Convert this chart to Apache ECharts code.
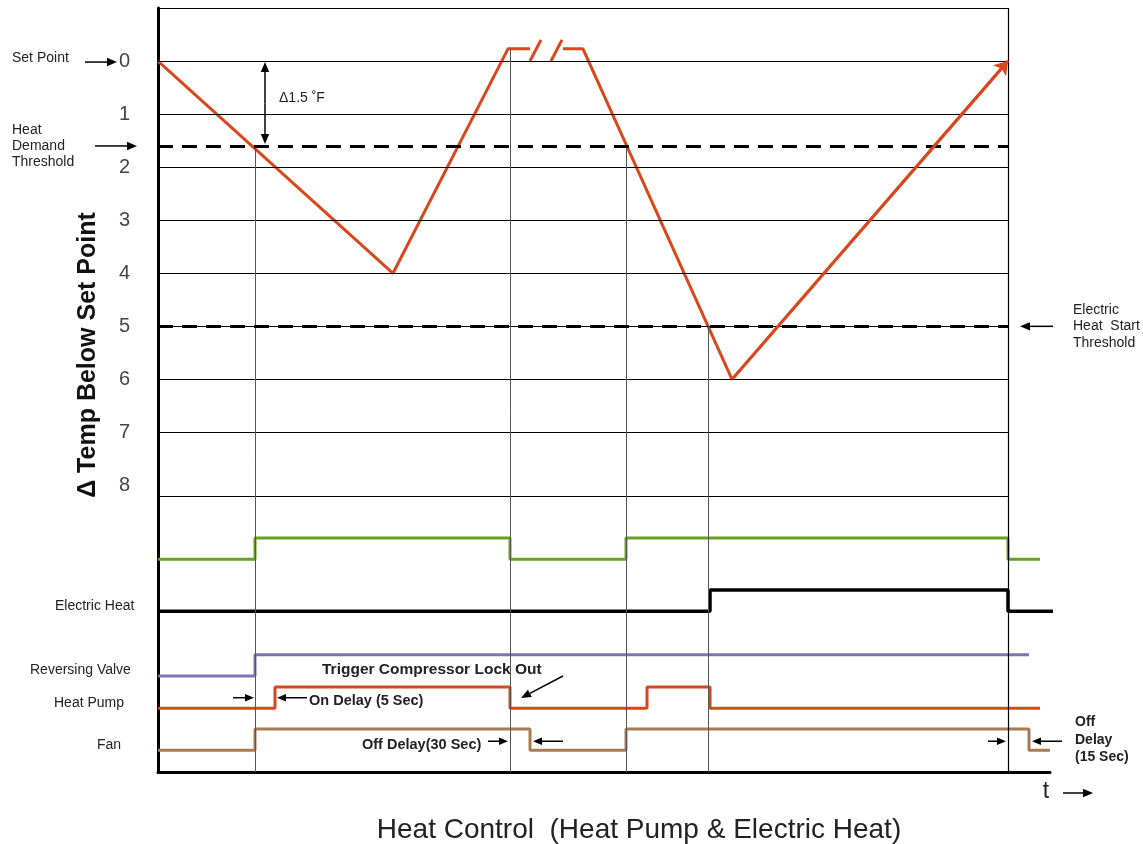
<!DOCTYPE html>
<html>
<head>
<meta charset="utf-8">
<script src="https://cdn.jsdelivr.net/npm/echarts@6/dist/echarts.min.js"></script>
<style>
  html, body { margin: 0; background: #fff; }
  #chart { width: 1143px; height: 844px; }
</style>
</head>
<body>
<div id="chart"></div>
<script>
// temperature below set point (deg F) against time
var tempRise = [[0, 0], [235, 4], [350, -0.23], [372, -0.23]];
var tempFall = [[405, -0.23], [425, -0.23], [574, 6], [850, 0]];
var breakMarks = [[[372, 0], [383, -0.4]], [[393, 0], [404, -0.4]]];
var gridLevels = [0, 1, 2, 3, 4, 5, 6, 7, 8.2];
var tickLabels = ['0', '1', '2', '3', '4', '5', '6', '7', '8'];
var heatDemand = 1.6;
var elecStart = 5;
// vertical event lines: [time, start level]
var events = [[97, 1.6], [352, -0.23], [468, 1.6], [550, 5]];

// digital signals: [time, state]
var callSig  = [[0, 0], [97, 1], [352, 0], [468, 1], [850, 0], [882, 0]];
var elecHeat = [[0, 0], [552, 1], [850, 0], [903, 0]];
var revValve = [[0, 0], [97, 1], [871, 1]];
var heatPump = [[0, 0], [117, 1], [352, 0], [489, 1], [552, 0], [882, 0]];
var fan      = [[0, 0], [97, 1], [372, 0], [468, 1], [871, 0], [892, 0]];

var FONT = 'Liberation Sans, Arial, sans-serif';
var RED = '#d9481c';

var chart = echarts.init(document.getElementById('chart'));

function levelize(sig, base) {
  return sig.map(function (p) { return [p[0], base - p[1] * 0.4]; });
}

function sigSeries(sig, base, color, width) {
  return {
    type: 'line', step: 'end', data: levelize(sig, base), symbol: 'none',
    clip: false, silent: true, animation: false,
    lineStyle: { color: color, width: width || 3 }
  };
}

function hLine(v, t0, t1) { return [{ coord: [t0, v] }, { coord: [t1, v] }]; }

var option = {
  backgroundColor: '#fff',
  grid: { left: 158, right: 93, top: 8, bottom: 72 },
  xAxis: {
    type: 'value', min: 0, max: 892,
    axisLine: { onZero: false, lineStyle: { color: '#000', width: 3 } },
    axisTick: { show: false }, axisLabel: { show: false }, splitLine: { show: false }
  },
  yAxis: {
    type: 'value', inverse: true, min: -1, max: 13.4, interval: 1,
    axisLine: { onZero: false, lineStyle: { color: '#000', width: 3 } },
    axisTick: { show: false }, splitLine: { show: false },
    axisLabel: {
      margin: 28, fontSize: 20, color: '#444', fontFamily: FONT,
      formatter: function (v) { return (v >= 0 && v <= 8) ? tickLabels[v] : ''; }
    }
  },
  series: [
    {
      // helper lines: grid, frame, thresholds, event markers
      type: 'line', data: [[0, -1]], symbol: 'none', clip: false, silent: true,
      animation: false, lineStyle: { opacity: 0 },
      markLine: {
        silent: true, symbol: 'none', animation: false, label: { show: false },
        lineStyle: { color: '#000', width: 1.2, type: 'solid' },
        data: gridLevels.map(function (v) { return hLine(v, 0, 850); })
          .concat([hLine(-1, 0, 850)])
          .concat([[{ coord: [850, -1] }, { coord: [850, 13.4] }]])
          .concat(events.map(function (e) {
            return [{ coord: [e[0], e[1]], lineStyle: { color: '#555', width: 1 } }, { coord: [e[0], 13.4] }];
          }))
          .concat([heatDemand, elecStart].map(function (v) {
            return [{ coord: [0, v], lineStyle: { color: '#000', width: 3, type: [15, 9] } }, { coord: [850, v] }];
          }))
      }
    },
    {
      type: 'line', data: tempRise, symbol: 'none', silent: true, animation: false,
      lineStyle: { color: RED, width: 3 }
    },
    {
      type: 'line', data: tempFall, symbol: 'none', silent: true, animation: false,
      lineStyle: { color: RED, width: 3 },
      markLine: {
        silent: true, animation: false, symbol: ['none', 'arrow'], symbolSize: 13,
        label: { show: false }, lineStyle: { color: RED, width: 3, type: 'solid' },
        data: [[{ coord: tempFall[2] }, { coord: tempFall[3] }]]
      }
    },
    {
      type: 'line', data: breakMarks[0], symbol: 'none', silent: true, animation: false,
      lineStyle: { color: RED, width: 3 }
    },
    {
      type: 'line', data: breakMarks[1], symbol: 'none', silent: true, animation: false,
      lineStyle: { color: RED, width: 3 }
    },
    sigSeries(callSig, 9.39, '#6b9f22'),
    sigSeries(elecHeat, 10.37, '#000', 3.5),
    sigSeries(revValve, 11.59, '#7a76b6'),
    sigSeries(heatPump, 12.2, RED),
    sigSeries(fan, 12.99, '#a97b52')
  ]
};

chart.setOption(option);

function px(t, v) { return chart.convertToPixel({ gridIndex: 0 }, [t, v]); }

function arrow(x1, y1, x2, y2, opts) {
  opts = opts || {};
  var color = opts.color || '#000', head = opts.head || 9, w = opts.width || 1.5;
  var dx = x2 - x1, dy = y2 - y1, len = Math.sqrt(dx * dx + dy * dy);
  var ux = dx / len, uy = dy / len;
  var bx = x2 - ux * head, by = y2 - uy * head;
  var hw = head * 0.42;
  return [
    { type: 'line', silent: true, shape: { x1: x1, y1: y1, x2: bx, y2: by }, style: { stroke: color, lineWidth: w } },
    { type: 'polygon', silent: true, shape: { points: [[x2, y2], [bx - uy * hw, by + ux * hw], [bx + uy * hw, by - ux * hw]] }, style: { fill: color } }
  ];
}

function text(str, x, y, opts) {
  opts = opts || {};
  return {
    type: 'text', silent: true, x: x, y: y, rotation: opts.rotation || 0,
    style: {
      text: str, font: opts.font || ('14px ' + FONT), fill: opts.color || '#222',
      textAlign: opts.align || 'left', textVerticalAlign: opts.valign || 'middle',
      lineHeight: opts.lineHeight || 16
    }
  };
}

var yZero = px(0, 0)[1];
var yDemand = px(0, heatDemand)[1];
var yElec = px(0, elecStart)[1];
var xEv1 = px(97, 0)[0], xEv2 = px(352, 0)[0], xFanOff = px(372, 0)[0];
var xHpOn = px(117, 0)[0], xEnd = px(850, 0)[0], xFanOff2 = px(871, 0)[0];
var xDelta = px(107, 0)[0];
var yHp = px(0, 12.0)[1], yFan = px(0, 12.82)[1];

var g = [];
g.push(text('Set Point', 12, yZero - 3));
g = g.concat(arrow(85, yZero + 1, 117, yZero + 1, { head: 10 }));
g.push(text('Heat\nDemand\nThreshold', 12, yDemand));
g = g.concat(arrow(95, yDemand, 137, yDemand, { head: 10 }));
g.push(text('Electric\nHeat  Start\nThreshold', 1073, yElec, { lineHeight: 16.5 }));
g = g.concat(arrow(1053, yElec, 1020, yElec, { head: 10 }));

// delta 1.5 F double arrow
g = g.concat(arrow(xDelta, (yZero + yDemand) / 2, xDelta, yZero + 1, { head: 10 }));
g = g.concat(arrow(xDelta, (yZero + yDemand) / 2, xDelta, yDemand - 2, { head: 10 }));
g.push(text('\u03941.5 \u02daF', 279, 98));

// signal names
g.push(text('Electric Heat', 55, 606));
g.push(text('Reversing Valve', 30, 670));
g.push(text('Heat Pump', 54, 703));
g.push(text('Fan', 97, 745));

var bold = 'bold 14.5px ' + FONT;
g.push(text('Trigger Compressor Lock Out', 322, 670, { font: 'bold 15.5px ' + FONT }));
g = g.concat(arrow(563, 676, xEv2 + 11, 698, { head: 10 }));
g = g.concat(arrow(xEv1 - 22, yHp, xEv1 - 1, yHp, { head: 9 }));
g = g.concat(arrow(xHpOn + 32, yHp, xHpOn + 2, yHp, { head: 9 }));
g.push(text('On Delay (5 Sec)', 309, 701, { font: bold }));
g.push(text('Off Delay(30 Sec)', 362, 745, { font: bold }));
g = g.concat(arrow(xEv2 - 22, yFan, xEv2 - 2, yFan, { head: 9 }));
g = g.concat(arrow(xFanOff + 33, yFan, xFanOff + 3, yFan, { head: 9 }));
g = g.concat(arrow(xEnd - 20, yFan, xEnd - 2, yFan, { head: 9 }));
g = g.concat(arrow(xFanOff2 + 33, yFan, xFanOff2 + 3, yFan, { head: 9 }));
g.push(text('Off\nDelay\n(15 Sec)', 1075, 740, { font: 'bold 14px ' + FONT, lineHeight: 17.5 }));

// axis captions
g.push(text('\u0394 Temp Below Set Point', 88, 355, { font: 'bold 25px ' + FONT, color: '#111', align: 'center', rotation: Math.PI / 2 }));
g.push(text('t', 1046, 792, { font: '23px ' + FONT, align: 'center' }));
g = g.concat(arrow(1063, 793, 1093, 793, { head: 10 }));
g.push(text('Heat Control  (Heat Pump & Electric Heat)', 639, 830, { font: '28px ' + FONT, align: 'center', color: '#222' }));

chart.setOption({ graphic: { elements: g } });
</script>
</body>
</html>
